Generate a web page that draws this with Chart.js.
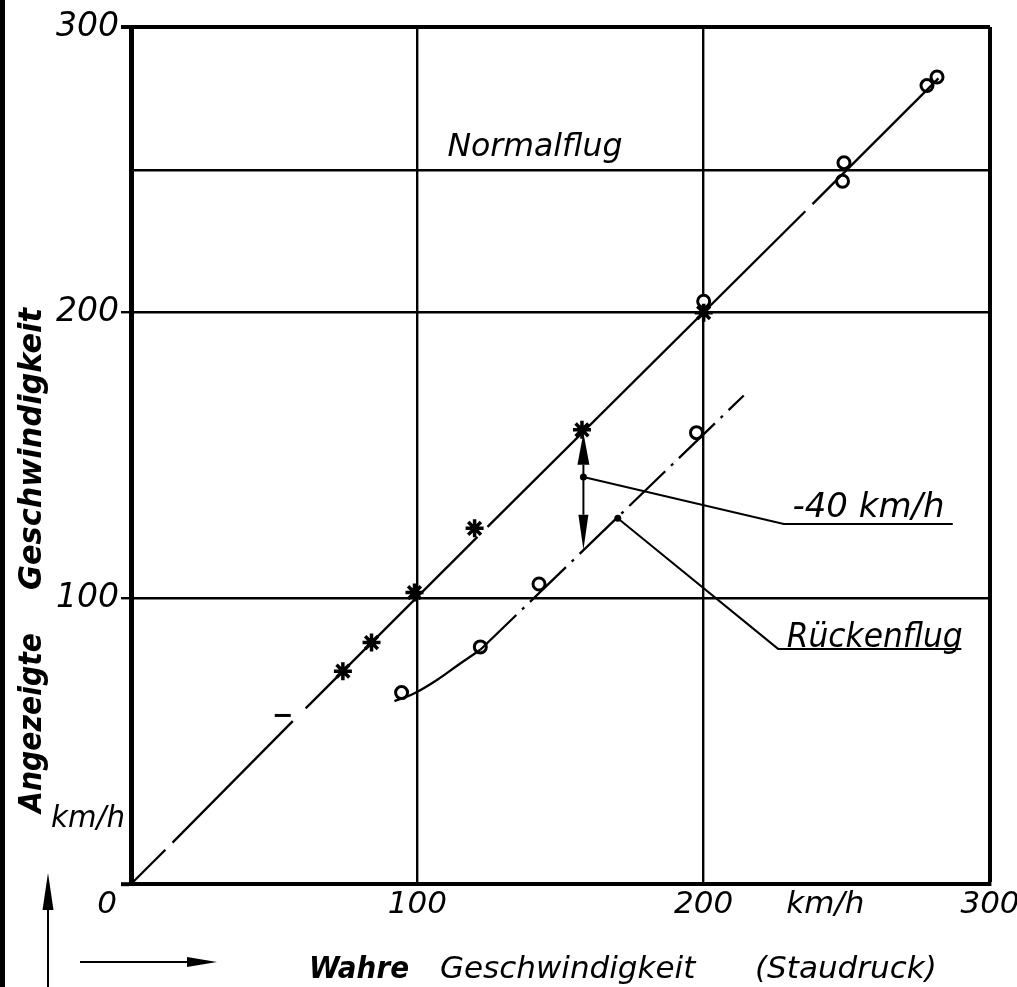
<!DOCTYPE html>
<html>
<head>
<meta charset="utf-8">
<script src="https://cdn.jsdelivr.net/npm/chart.js@4.4.1/dist/chart.umd.min.js"></script>
<style>
  html, body { margin: 0; padding: 0; background: #fff; }
  canvas { display: block; }
</style>
</head>
<body>
<canvas id="chart" width="1017" height="987"></canvas>
<script>
// --- DATA (all in km/h) ---
const xTicks = [0, 100, 200, 300];
const yTicks = [0, 100, 200, 250, 300];

// Normalflug: measured points and the fitted line (drawn with a few small breaks)
const normalCrosses = [[74, 74.5], [84, 84.5], [99, 102], [120, 124.5], [157.5, 159], [200, 200]];
const normalCircles = [[200, 204], [248.5, 246], [249, 252.5], [278, 279.5], [281.5, 282.5]];
const normalDash = [[53, 59]];
const normalLinePieces = [
  [[0, 0], [12, 12]],
  [[14.5, 14.5], [56.5, 57]],
  [[61, 61.5], [121, 121.5]],
  [[124.5, 125], [235.5, 235.5]],
  [[238, 238], [282, 282]]
];

// Rückenflug: measured points, curved start and dash-dot line
const rueckenCircles = [[94.5, 67], [122, 83], [142.5, 105], [197.5, 158]];
const rueckenCurve = [[92, 64], [98.5, 66.5], [107, 71.5], [114, 76.5], [122, 82]];
const rueckenLine = [[122, 82], [214, 171]];

// annotation leader lines (start dot, knee, end of underline)
const leader40 = [[158, 142.5], [228, 126], [287, 126]];
const leaderRuecken = [[170, 128], [226, 82.3], [290, 82.3]];
// double arrow "-40 km/h": x, lower tip, centre dot, upper tip
const arrow40 = [158, 117, 142.5, 158];

const FONT = "'DejaVu Sans', 'Liberation Sans', sans-serif";
const BLACK = '#000';
const NONE = 'rgba(0,0,0,0)';

const toXY = pts => pts.map(([x, y]) => ({ x, y }));

const lineStyle = {
  showLine: true,
  borderColor: BLACK,
  borderWidth: 2.3,
  pointRadius: 0,
  fill: false
};

function arrow(ctx, x1, y1, x2, y2, headLen, headW) {
  const a = Math.atan2(y2 - y1, x2 - x1);
  const bx = x2 - Math.cos(a) * headLen, by = y2 - Math.sin(a) * headLen;
  ctx.beginPath();
  ctx.moveTo(x1, y1);
  ctx.lineTo(bx, by);
  ctx.stroke();
  ctx.beginPath();
  ctx.moveTo(x2, y2);
  ctx.lineTo(bx - Math.sin(a) * headW / 2, by + Math.cos(a) * headW / 2);
  ctx.lineTo(bx + Math.sin(a) * headW / 2, by - Math.cos(a) * headW / 2);
  ctx.closePath();
  ctx.fill();
}

// draws the annotation texts, the double arrow and all texts outside the frame
const drawingPlugin = {
  id: 'drawing',
  afterDatasetsDraw(chart) {
    const { ctx, scales: { x, y } } = chart;
    ctx.save();
    ctx.fillStyle = BLACK;
    ctx.strokeStyle = BLACK;
    ctx.lineWidth = 2;

    // double arrow between the two curves
    const ax = x.getPixelForValue(arrow40[0]);
    const mid = y.getPixelForValue(arrow40[2]);
    arrow(ctx, ax, mid, ax, y.getPixelForValue(arrow40[3]), 32, 12);
    arrow(ctx, ax, mid, ax, y.getPixelForValue(arrow40[1]), 35, 10);

    ctx.textBaseline = 'alphabetic';
    ctx.textAlign = 'left';
    ctx.font = 'italic 32px ' + FONT;
    ctx.fillText('Normalflug', x.getPixelForValue(110.5), y.getPixelForValue(255), 175);
    ctx.font = 'italic 34px ' + FONT;
    ctx.fillText('-40 km/h', x.getPixelForValue(231), y.getPixelForValue(leader40[2][1]) - 7, 156);
    ctx.font = 'italic 33px ' + FONT;
    ctx.fillText('Rückenflug', x.getPixelForValue(229), y.getPixelForValue(leaderRuecken[2][1]) - 2, 176);
    ctx.restore();
  },
  afterDraw(chart) {
    const { ctx, scales: { x, y } } = chart;
    ctx.save();
    ctx.fillStyle = BLACK;
    ctx.strokeStyle = BLACK;

    // scan edge on the left
    ctx.fillRect(0, 0, 5, chart.height);

    // origin label and units
    ctx.font = 'italic 31px ' + FONT;
    ctx.textBaseline = 'middle';
    ctx.textAlign = 'center';
    ctx.fillText('0', x.left - 24, y.bottom + 21);
    ctx.fillText('km/h', x.getPixelForValue(242.5), y.bottom + 21);
    ctx.textAlign = 'right';
    ctx.textBaseline = 'alphabetic';
    ctx.fillText('km/h', x.left - 6, y.getPixelForValue(20), 74);

    // y axis title, rotated
    ctx.save();
    ctx.translate(41, 0);
    ctx.rotate(-Math.PI / 2);
    ctx.textAlign = 'left';
    ctx.font = 'italic bold 32px ' + FONT;
    ctx.fillText('Angezeigte', -813, 0, 180);
    ctx.fillText('Geschwindigkeit', -590, 0, 282);
    ctx.restore();

    // x axis title
    ctx.textAlign = 'left';
    ctx.font = 'italic bold 30px ' + FONT;
    ctx.fillText('Wahre', 309, 978, 100);
    ctx.font = 'italic 31px ' + FONT;
    ctx.fillText('Geschwindigkeit', 440, 978, 256);
    ctx.fillText('(Staudruck)', 755, 978, 196);

    // direction arrows
    ctx.lineWidth = 2;
    arrow(ctx, 48, 990, 48, 873, 37, 11);
    arrow(ctx, 80, 962, 217, 962, 30, 10);
    ctx.restore();
  }
};

new Chart(document.getElementById('chart'), {
  type: 'scatter',
  data: {
    datasets: [
      ...normalLinePieces.map(p => ({ ...lineStyle, data: toXY(p) })),
      { ...lineStyle, data: toXY(rueckenCurve), cubicInterpolationMode: 'monotone' },
      { ...lineStyle, data: toXY(rueckenLine), borderDash: [50, 8, 3, 8] },
      { ...lineStyle, data: toXY(leader40), borderWidth: 2,
        pointRadius: c => (c.dataIndex === 0 ? 3.5 : 0), pointBackgroundColor: BLACK, pointBorderWidth: 0 },
      { ...lineStyle, data: toXY(leaderRuecken), borderWidth: 2,
        pointRadius: c => (c.dataIndex === 0 ? 3.5 : 0), pointBackgroundColor: BLACK, pointBorderWidth: 0 },
      { data: toXY(normalCrosses), pointStyle: 'star', pointRadius: 9, borderWidth: 3.5,
        borderColor: BLACK, backgroundColor: BLACK },
      { data: toXY(normalCircles), pointStyle: 'circle', pointRadius: 6, borderWidth: 3,
        borderColor: BLACK, backgroundColor: '#fff' },
      { data: toXY(rueckenCircles), pointStyle: 'circle', pointRadius: 6, borderWidth: 3,
        borderColor: BLACK, backgroundColor: '#fff' },
      { data: toXY(normalDash), pointStyle: 'line', pointRadius: 8, borderWidth: 3,
        borderColor: BLACK }
    ]
  },
  options: {
    responsive: false,
    animation: false,
    layout: { padding: { left: 0, top: 27, right: 27, bottom: 0 } },
    plugins: { legend: { display: false }, tooltip: { enabled: false } },
    scales: {
      x: {
        type: 'linear',
        min: 0,
        max: 300,
        afterBuildTicks: s => { s.ticks = xTicks.map(v => ({ value: v })); },
        afterFit: s => { s.height = 103; s.paddingLeft = 0; s.paddingRight = 0; },
        border: { display: true, color: BLACK, width: 4 },
        grid: {
          drawTicks: false,
          color: c => (c.tick && c.tick.value === 0 ? NONE : BLACK),
          lineWidth: c => (c.tick && c.tick.value === 300 ? 4 : 2.4)
        },
        ticks: {
          padding: 2,
          color: BLACK,
          maxRotation: 0,
          font: { family: FONT, size: 31, style: 'italic' },
          callback: v => (v === 0 ? '' : String(v))
        }
      },
      y: {
        type: 'linear',
        min: 0,
        max: 300,
        afterBuildTicks: s => { s.ticks = yTicks.map(v => ({ value: v })); },
        afterFit: s => { s.width = 131; s.paddingTop = 0; s.paddingBottom = 0; },
        border: { display: true, color: BLACK, width: 5 },
        grid: {
          tickLength: 10,
          color: c => (c.tick && c.tick.value === 0 ? NONE : BLACK),
          lineWidth: c => (c.tick && c.tick.value === 300 ? 4 : 2.4),
          tickColor: c => (c.tick && c.tick.value === 250 ? NONE : BLACK),
          tickWidth: c => (c.tick && (c.tick.value === 300 || c.tick.value === 0) ? 4 : 2.4)
        },
        ticks: {
          padding: 2,
          color: BLACK,
          font: { family: FONT, size: 33, style: 'italic' },
          callback: v => (v === 0 || v === 250 ? '' : String(v))
        }
      }
    }
  },
  plugins: [drawingPlugin]
});
</script>
</body>
</html>
